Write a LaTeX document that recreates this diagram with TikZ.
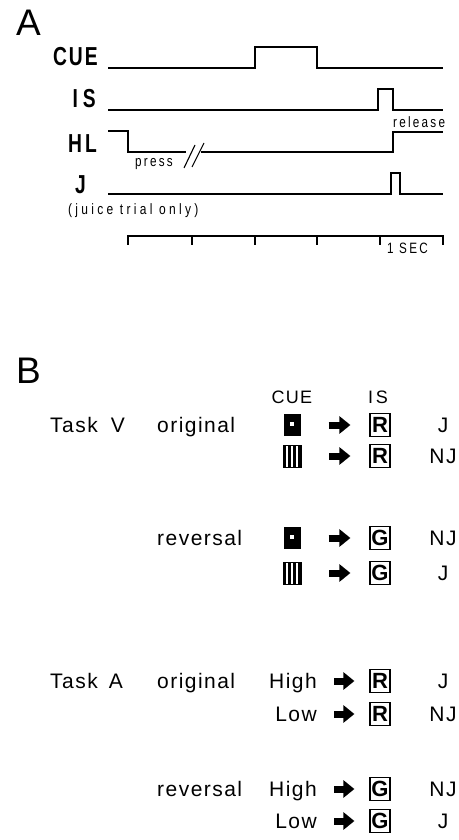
\documentclass[tikz,border=0pt]{standalone}
\usepackage{fontspec}
\setmainfont{Liberation Sans}
\newfontfamily\spfont[LetterSpace=7]{Liberation Sans}
\newfontfamily\lbfont[LetterSpace=8,FakeStretch=0.74]{Liberation Sans}
\newfontfamily\cnfont[LetterSpace=15,FakeStretch=0.78]{Liberation Sans}
\newfontfamily\jfont[LetterSpace=22,FakeStretch=0.8]{Liberation Sans}
\usetikzlibrary{arrows.meta}
\begin{document}
\begin{tikzpicture}[x=1pt,y=-1pt,
  panel/.style={inner sep=0pt, anchor=base west, font=\fontsize{37}{37}\selectfont},
  siglbl/.style={inner sep=0pt, anchor=base east, font=\lbfont\bfseries\fontsize{26}{26}\selectfont},
  tiny/.style={inner sep=0pt, anchor=base west, font=\cnfont\fontsize{15}{15}\selectfont},
  sig/.style={line width=1.3pt, line join=miter},
  rowtxt/.style={inner sep=0pt, anchor=base west, font=\spfont\fontsize{21}{21}\selectfont},
  restxt/.style={inner sep=0pt, anchor=base, font=\spfont\fontsize{21}{21}\selectfont},
  stim/.style={inner sep=0pt, anchor=base east, font=\spfont\fontsize{21}{21}\selectfont},
  hdr/.style={inner sep=0pt, anchor=base, font=\spfont\fontsize{18}{18}\selectfont},
  isbox/.style={draw, line width=1.2pt, minimum width=20pt, minimum height=23pt, inner sep=0pt, font=\bfseries\fontsize{22}{22}\selectfont},
  cuesolid/.style={fill=black, minimum width=17pt, minimum height=22pt, inner sep=0pt,
    path picture={\fill[white] ([shift={(-2.2pt,-1pt)}]path picture bounding box.center) rectangle ++(4.4pt,4.4pt);}},
  cuestripe/.style={draw, line width=0.6pt, minimum width=18pt, minimum height=22pt, inner sep=0pt,
    path picture={\foreach \a/\w in {0/3.2,5.2/2.6,10/2.6,14.8/3.2}{\fill ([xshift=\a pt]path picture bounding box.south west) rectangle ++(\w pt,22pt);}}},
  blk/.style={line width=7pt, -{Triangle[length=11pt,width=17pt]}},
]
\useasboundingbox (0,0) rectangle (458,840);

% ---------- Panel A ----------
\node[panel] (lA) at (16,36) {A};
\node[siglbl] (cue) at (98,66) {CUE};
\node[siglbl] (is) at (96,108) {I\hspace{5pt}S};
\node[siglbl] (hl) at (97,152) {H\hspace{3pt}L};
\node[siglbl] (j) at (86,193) {J};

\draw[sig] (108,68) -- (255,68) -- (255,47) -- (317,47) -- (317,68) -- (443,68);
\draw[sig] (108,110) -- (378,110) -- (378,89) -- (393,89) -- (393,110) -- (443,110);
\draw[sig] (108,131) -- (128,131) -- (128,152) -- (186,152);
\draw[sig] (201,152) -- (393,152) -- (393,132) -- (443,132);
\draw[line width=1.1pt] (184,168) -- (195,145) (192,167) -- (204,143);
\draw[sig] (108,194) -- (391,194) -- (391,173) -- (400,173) -- (400,194) -- (443,194);

\node[tiny] (rel) at (393,128) {release};
\node[tiny] (pr) at (135,166) {press};
\node[tiny, font=\jfont\fontsize{15}{15}\selectfont] (juice) at (68,214) {(juice trial only)};

\draw[line width=1.2pt] (128,236) -- (443,236);
\foreach \x in {128,192,255,317,380,443}{\draw[line width=1.2pt] (\x,235.4) -- (\x,245);}
\node[tiny, font=\cnfont\fontsize{15}{15}\selectfont] (sec) at (387,253) {1 SEC};

% ---------- Panel B ----------
\node[panel] (lB) at (16,383) {B};
\node[hdr] (hcue) at (292,403) {CUE};
\node[hdr] (his) at (378,403) {I\hspace{3pt}S};

% Task V
\node[rowtxt] (tv) at (50,432) {Task\hspace{13pt}V};
\node[rowtxt] (tvo) at (157,432) {original};
\node[cuesolid] (c1) at (292,425) {};
\node[isbox] (i1) at (380,425) {R};
\draw[blk] ([xshift=28pt]c1.east) -- ([xshift=-19pt]i1.west);
\node[restxt] (r1) at (443,432) {J};

\node[cuestripe] (c2) at (292,456) {};
\node[isbox] (i2) at (380,456) {R};
\draw[blk] ([xshift=28pt]c2.east) -- ([xshift=-19pt]i2.west);
\node[restxt] (r2) at (443,463) {NJ};

\node[rowtxt] (tvr) at (157,545) {reversal};
\node[cuesolid] (c3) at (292,538) {};
\node[isbox] (i3) at (380,538) {G};
\draw[blk] ([xshift=28pt]c3.east) -- ([xshift=-19pt]i3.west);
\node[restxt] (r3) at (443,545) {NJ};

\node[cuestripe] (c4) at (292,573) {};
\node[isbox] (i4) at (380,573) {G};
\draw[blk] ([xshift=28pt]c4.east) -- ([xshift=-19pt]i4.west);
\node[restxt] (r4) at (443,580) {J};

% Task A
\node[rowtxt] (ta) at (50,688) {Task\hspace{11pt}A};
\node[rowtxt] (tao) at (157,688) {original};
\node[stim] (s5) at (317,688) {High};
\node[isbox] (i5) at (380,681) {R};
\draw[blk] ([xshift=17pt]s5.east |- i5.west) -- ([xshift=-15pt]i5.west);
\node[restxt] (r5) at (443,688) {J};

\node[stim] (s6) at (317,721) {Low};
\node[isbox] (i6) at (380,714) {R};
\draw[blk] ([xshift=17pt]s6.east |- i6.west) -- ([xshift=-15pt]i6.west);
\node[restxt] (r6) at (443,721) {NJ};

\node[rowtxt] (tar) at (157,796) {reversal};
\node[stim] (s7) at (317,796) {High};
\node[isbox] (i7) at (380,789) {G};
\draw[blk] ([xshift=17pt]s7.east |- i7.west) -- ([xshift=-15pt]i7.west);
\node[restxt] (r7) at (443,796) {NJ};

\node[stim] (s8) at (317,828) {Low};
\node[isbox] (i8) at (380,821) {G};
\draw[blk] ([xshift=17pt]s8.east |- i8.west) -- ([xshift=-15pt]i8.west);
\node[restxt] (r8) at (443,828) {J};
\end{tikzpicture}
\end{document}
